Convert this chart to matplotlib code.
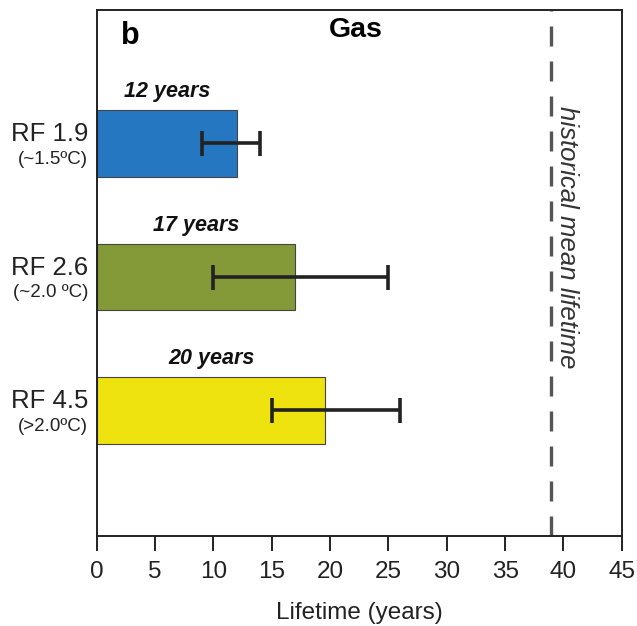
import matplotlib.pyplot as plt
from matplotlib.transforms import blended_transform_factory

plt.rcParams['font.family'] = ['Liberation Sans', 'DejaVu Sans']

# data
scenarios = ['RF 1.9', 'RF 2.6', 'RF 4.5']
warming = ['(~1.5ºC)', '(~2.0 ºC)', '(>2.0ºC)']
lifetime = [12, 17, 19.6]
err_low = [9, 10, 15]
err_high = [14, 25, 26]
bar_labels = ['12 years', '17 years', '20 years']
colors = ['#2677c1', '#849a38', '#eee30f']
hist_mean = 38.9

fig = plt.figure(figsize=(6.37, 6.26), dpi=100)
ax = fig.add_axes([0.152, 0.144, 0.824, 0.840])

ypos = list(range(len(scenarios)))
ax.barh(ypos, lifetime, height=0.5, color=colors, edgecolor='#444444', linewidth=0.8, zorder=2)

# error bars from low/high ends
mid = [(lo + hi) / 2 for lo, hi in zip(err_low, err_high)]
half = [(hi - lo) / 2 for lo, hi in zip(err_low, err_high)]
ax.errorbar(mid, ypos, xerr=half, fmt='none', ecolor='#222222', elinewidth=2.6,
            capsize=9, capthick=2.6, zorder=3)

for y, v, lab in zip(ypos, lifetime, bar_labels):
    ax.text(v / 2, y - 0.31, lab, ha='center', va='bottom', fontsize=15.5,
            fontweight='bold', fontstyle='italic', color='#111111')

ax.axvline(hist_mean, color='#555555', lw=2.4, dashes=(6, 4.5), zorder=1)
ax.text(hist_mean + 1.45, 0.7, 'historical mean lifetime', rotation=-90, ha='center',
        va='center', fontsize=18.5, fontstyle='italic', color='#333333')

ax.set_xlim(0, 45)
ax.set_ylim(2.94, -1.0)
ax.set_xticks(range(0, 46, 5))
ax.set_yticks([])
ax.tick_params(axis='x', direction='out', length=11, width=1.4, labelsize=17.5,
               colors='#222222', pad=7)
for s in ax.spines.values():
    s.set_linewidth(1.4)
    s.set_color('#222222')

trans = blended_transform_factory(ax.transAxes, ax.transData)
for y, name, w in zip(ypos, scenarios, warming):
    ax.text(-0.017, y - 0.07, name, transform=trans, ha='right', va='center',
            fontsize=18.5, color='#222222')
    ax.text(-0.017, y + 0.12, w, transform=trans, ha='right', va='center',
            fontsize=13.5, color='#222222')

ax.set_xlabel('Lifetime (years)', fontsize=17.5, color='#222222', labelpad=14)

ax.text(0.063, 0.951, 'b', transform=ax.transAxes, fontsize=22, fontweight='bold',
        ha='center', va='center')
ax.text(0.494, 0.962, 'Gas', transform=ax.transAxes, fontsize=20.5, fontweight='bold',
        ha='center', va='center')

fig.savefig('out.png', dpi=100)
